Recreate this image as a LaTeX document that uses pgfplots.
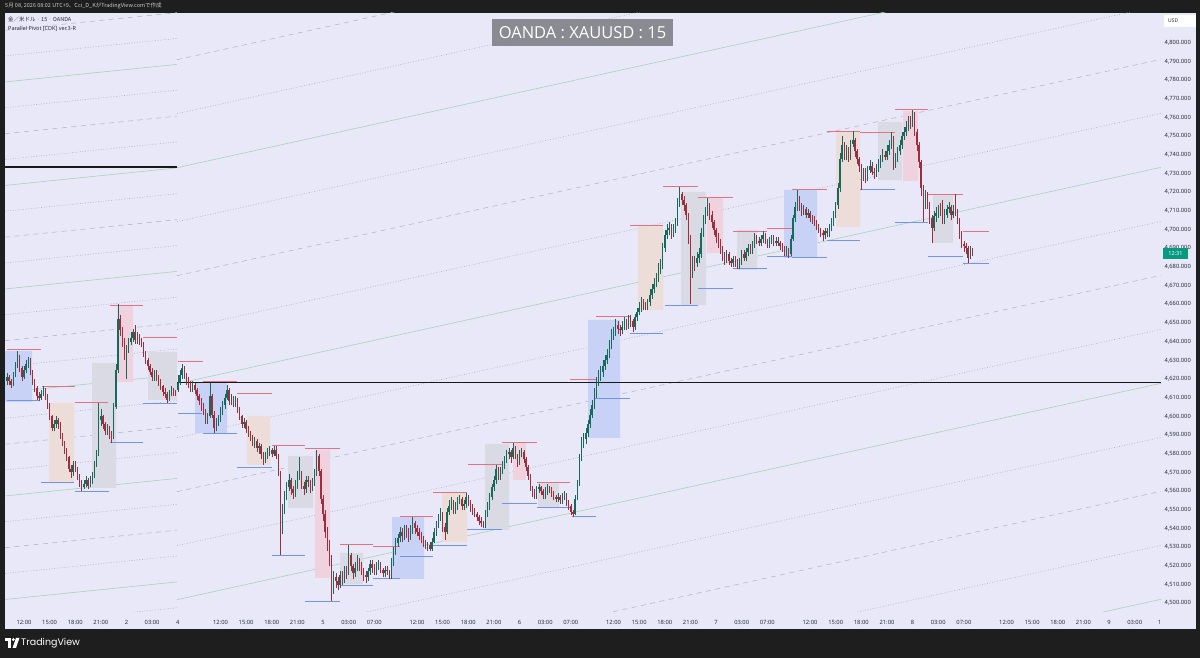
\documentclass[border=0pt]{standalone}
\usepackage{pgfplots}
\usepackage{pgfplotstable}
\pgfplotsset{compat=1.18}
\usepackage{fontspec}
\setmainfont{Noto Sans}
\newfontfamily\titlefont{Open Sans}
\newfontfamily\jp{Noto Sans CJK JP}
\newfontfamily\logofont{Poppins}

\definecolor{frame}{HTML}{1E1E1E}
\definecolor{panel}{HTML}{E9E8F8}
\definecolor{tvtext}{HTML}{2A2E39}
\definecolor{greenl}{HTML}{A3D6B1}
\definecolor{grayl}{HTML}{A9A9C2}
\definecolor{grayd}{HTML}{B3B3CA}
\definecolor{bxblue}{HTML}{C8D1F6}
\definecolor{bxgray}{HTML}{DADAE5}
\definecolor{bxpeach}{HTML}{EDDDD8}
\definecolor{bxpink}{HTML}{F0D2DE}
\definecolor{redl}{HTML}{E8717F}
\definecolor{bluel}{HTML}{6F95EC}
\definecolor{upc}{HTML}{17695C}
\definecolor{dnc}{HTML}{9E2E3B}
\definecolor{tvgreen}{HTML}{089981}

% 15-min candles, 10:00 May 1 .. 08:00 May 8 (one row per bar)
\pgfplotstableread{
o h l c
4619 4623 4617 4621
4621 4622 4617 4619
4619 4620 4615 4617
4617 4624 4616 4622
4622 4629 4621 4627
4627 4635 4626 4632
4632 4633 4624 4626
4626 4627 4619 4621
4621 4627 4620 4625
4625 4630 4623 4628
4628 4632 4626 4630
4630 4631 4622 4624
4624 4625 4617 4619
4619 4620 4613 4615
4615 4616 4609 4611
4611 4613 4608 4610
4610 4614 4609 4612
4612 4616 4611 4614
4614 4615 4609 4611
4611 4612 4604 4606
4606 4607 4598 4600
4600 4601 4592 4594
4594 4598 4592 4596
4596 4600 4594 4598
4598 4599 4593 4596
4596 4597 4588 4590
4590 4591 4584 4586
4586 4587 4580 4582
4582 4583 4576 4578
4578 4579 4570 4572
4572 4574 4567 4570
4570 4576 4568 4574
4574 4576 4570 4572
4572 4573 4566 4568
4568 4569 4562 4564
4564 4566 4560 4562
4562 4566 4561 4564
4564 4568 4562 4566
4566 4567 4561 4563
4563 4568 4562 4566
4566 4570 4564 4568
4568 4576 4567 4574
4574 4582 4573 4580
4580 4607 4579 4598
4598 4604 4595 4600
4600 4601 4593 4596
4596 4597 4590 4592
4592 4596 4590 4594
4594 4595 4588 4590
4590 4592 4586 4589
4589 4607 4588 4605
4605 4628 4604 4625
4625 4660 4623 4652
4652 4654 4643 4646
4646 4648 4637 4640
4640 4642 4630 4634
4634 4638 4620 4636
4636 4642 4634 4640
4640 4645 4638 4642
4642 4647 4640 4645
4645 4649 4639 4641
4641 4645 4639 4643
4643 4644 4638 4640
4640 4642 4637 4639
4639 4640 4632 4634
4634 4635 4628 4630
4630 4631 4625 4627
4627 4628 4622 4624
4624 4626 4619 4621
4621 4625 4619 4623
4623 4625 4619 4621
4621 4622 4616 4618
4618 4620 4614 4616
4616 4617 4611 4613
4613 4615 4610 4612
4612 4613 4607 4609
4609 4614 4608 4612
4612 4616 4611 4614
4614 4615 4611 4613
4613 4614 4611 4612
4614 4622 4613 4618
4618 4625 4617 4622
4622 4628 4620 4626
4626 4627 4620 4622
4622 4623 4617 4619
4619 4621 4615 4617
4617 4619 4613 4615
4615 4619 4613 4617
4617 4618 4612 4614
4614 4615 4609 4611
4611 4612 4606 4608
4608 4610 4603 4605
4605 4607 4601 4603
4603 4604 4596 4598
4598 4602 4596 4600
4600 4618 4599 4611
4611 4612 4599 4601
4601 4603 4591 4594
4594 4599 4592 4597
4597 4601 4595 4599
4599 4605 4597 4603
4603 4608 4601 4606
4606 4612 4604 4610
4610 4617 4609 4614
4614 4615 4606 4608
4608 4612 4606 4610
4610 4611 4605 4607
4607 4611 4605 4609
4609 4610 4602 4604
4604 4605 4598 4600
4600 4601 4594 4596
4596 4599 4594 4597
4597 4598 4591 4593
4593 4595 4589 4591
4591 4592 4587 4589
4589 4590 4584 4586
4586 4589 4583 4587
4587 4588 4581 4583
4583 4586 4580 4584
4584 4585 4577 4580
4580 4581 4574 4577
4577 4581 4575 4579
4579 4583 4577 4581
4581 4584 4579 4582
4582 4583 4578 4580
4580 4584 4579 4582
4582 4584 4577 4579
4579 4580 4568 4570
4570 4571 4526 4540
4540 4553 4537 4550
4550 4560 4548 4557
4557 4565 4555 4562
4562 4569 4560 4566
4566 4567 4558 4561
4561 4563 4556 4559
4559 4566 4557 4563
4563 4571 4561 4568
4568 4578 4566 4570
4570 4571 4561 4563
4563 4565 4558 4561
4561 4568 4559 4566
4566 4568 4562 4565
4565 4566 4559 4562
4562 4567 4560 4564
4564 4572 4563 4570
4570 4582 4568 4579
4579 4580 4568 4571
4571 4572 4553 4556
4556 4558 4544 4548
4548 4550 4535 4538
4538 4541 4528 4532
4532 4534 4520 4524
4524 4526 4501 4508
4508 4517 4505 4514
4514 4516 4508 4512
4512 4514 4507 4510
4510 4517 4508 4515
4515 4517 4510 4513
4513 4520 4511 4518
4518 4520 4513 4516
4516 4531 4515 4526
4526 4527 4517 4520
4520 4521 4513 4516
4516 4522 4514 4519
4519 4526 4517 4523
4523 4524 4517 4520
4520 4522 4515 4517
4517 4519 4512 4515
4515 4517 4511 4514
4514 4519 4512 4517
4517 4523 4515 4521
4521 4523 4516 4519
4519 4521 4515 4517
4517 4522 4515 4520
4520 4523 4518 4521
4521 4522 4516 4518
4518 4519 4514 4516
4516 4520 4514 4518
4518 4520 4515 4517
4517 4518 4513 4515
4515 4524 4513 4522
4522 4530 4520 4528
4528 4535 4526 4532
4532 4537 4530 4535
4535 4541 4533 4538
4538 4540 4533 4536
4536 4542 4534 4540
4540 4542 4535 4538
4538 4540 4533 4536
4536 4542 4534 4539
4539 4546 4537 4543
4543 4544 4537 4540
4540 4542 4536 4538
4538 4540 4534 4536
4536 4538 4532 4534
4534 4536 4530 4532
4532 4534 4529 4530
4530 4533 4528 4531
4531 4533 4528 4529
4529 4535 4528 4533
4533 4540 4532 4538
4538 4544 4536 4542
4542 4548 4540 4546
4546 4551 4544 4548
4548 4549 4538 4541
4541 4543 4534 4538
4538 4551 4537 4549
4549 4555 4547 4552
4552 4557 4550 4554
4554 4555 4548 4550
4550 4554 4548 4552
4552 4557 4550 4555
4555 4558 4553 4556
4556 4557 4550 4552
4552 4555 4550 4553
4553 4559 4551 4557
4557 4558 4552 4554
4554 4555 4549 4551
4551 4553 4547 4550
4550 4551 4546 4548
4548 4549 4544 4546
4546 4547 4542 4544
4544 4546 4541 4543
4543 4544 4540 4541
4541 4550 4540 4548
4548 4554 4546 4552
4552 4559 4550 4557
4557 4564 4555 4562
4562 4568 4560 4566
4566 4574 4564 4572
4572 4573 4566 4568
4568 4573 4566 4571
4571 4576 4569 4574
4574 4579 4572 4577
4577 4582 4575 4580
4580 4583 4577 4581
4581 4582 4575 4578
4578 4586 4577 4583
4583 4584 4577 4579
4579 4580 4573 4576
4576 4582 4574 4580
4580 4583 4578 4581
4581 4582 4575 4577
4577 4578 4571 4573
4573 4574 4566 4568
4568 4569 4560 4562
4562 4563 4557 4559
4559 4561 4556 4558
4558 4563 4556 4561
4561 4564 4559 4562
4562 4563 4558 4560
4560 4561 4556 4558
4558 4562 4556 4560
4560 4564 4558 4562
4562 4563 4559 4561
4561 4562 4557 4559
4559 4560 4555 4557
4557 4558 4554 4556
4556 4559 4554 4557
4557 4558 4553 4555
4555 4559 4553 4557
4557 4560 4555 4558
4558 4559 4552 4554
4554 4555 4550 4552
4552 4553 4547 4549
4549 4550 4546 4548
4548 4558 4547 4556
4556 4566 4555 4564
4564 4580 4563 4578
4578 4589 4576 4586
4586 4591 4583 4588
4588 4594 4585 4591
4591 4598 4589 4596
4596 4604 4594 4601
4601 4609 4599 4606
4606 4615 4604 4612
4612 4621 4610 4618
4618 4625 4616 4622
4622 4627 4619 4624
4624 4630 4621 4627
4627 4633 4625 4630
4630 4636 4628 4633
4633 4641 4631 4638
4638 4647 4636 4644
4644 4648 4641 4645
4645 4652 4643 4649
4649 4651 4644 4647
4647 4649 4643 4646
4646 4651 4644 4648
4648 4653 4646 4650
4650 4652 4646 4649
4649 4654 4647 4652
4652 4654 4648 4651
4651 4652 4645 4648
4648 4655 4646 4653
4653 4658 4651 4656
4656 4661 4654 4658
4658 4664 4656 4661
4661 4663 4657 4659
4659 4661 4657 4658
4658 4663 4657 4661
4661 4668 4659 4665
4665 4671 4663 4668
4668 4674 4666 4671
4671 4677 4669 4674
4674 4682 4672 4679
4679 4684 4676 4681
4681 4693 4679 4690
4690 4700 4688 4697
4697 4703 4695 4700
4700 4704 4697 4701
4701 4703 4695 4698
4698 4703 4696 4700
4700 4706 4698 4703
4703 4717 4702 4714
4714 4723 4712 4719
4719 4720 4713 4716
4716 4718 4710 4713
4713 4714 4705 4708
4708 4709 4692 4696
4696 4697 4660 4678
4678 4686 4674 4683
4683 4686 4678 4682
4682 4688 4680 4685
4685 4690 4682 4687
4687 4701 4685 4698
4698 4708 4696 4705
4705 4712 4703 4709
4709 4717 4707 4713
4713 4714 4705 4708
4708 4710 4701 4704
4704 4705 4697 4700
4700 4701 4693 4696
4696 4698 4690 4693
4693 4695 4687 4690
4690 4691 4683 4686
4686 4688 4681 4684
4684 4689 4682 4687
4687 4688 4681 4683
4683 4685 4680 4682
4682 4686 4680 4684
4684 4686 4680 4682
4682 4684 4679 4680
4680 4685 4679 4683
4683 4689 4681 4687
4687 4689 4683 4685
4685 4690 4683 4688
4688 4692 4686 4690
4690 4692 4687 4689
4689 4694 4687 4692
4692 4698 4690 4696
4696 4697 4692 4694
4694 4696 4691 4693
4693 4697 4691 4695
4695 4699 4693 4697
4697 4698 4692 4694
4694 4695 4690 4692
4692 4696 4690 4694
4694 4697 4692 4695
4695 4697 4691 4693
4693 4696 4691 4694
4694 4696 4691 4693
4693 4694 4689 4691
4691 4693 4688 4690
4690 4691 4686 4688
4688 4691 4686 4689
4689 4690 4685 4687
4687 4697 4686 4695
4695 4708 4694 4706
4706 4715 4704 4712
4712 4721 4710 4717
4717 4718 4710 4713
4713 4714 4707 4710
4710 4713 4708 4711
4711 4712 4706 4708
4708 4711 4706 4709
4709 4710 4704 4706
4706 4708 4703 4705
4705 4707 4702 4704
4704 4705 4700 4702
4702 4703 4698 4700
4700 4701 4696 4698
4698 4700 4694 4697
4697 4701 4695 4699
4699 4701 4696 4698
4698 4703 4696 4701
4701 4706 4699 4704
4704 4710 4702 4708
4708 4715 4706 4713
4713 4725 4711 4722
4722 4741 4720 4738
4738 4750 4736 4745
4745 4747 4737 4740
4740 4745 4737 4742
4742 4744 4736 4739
4739 4748 4737 4746
4746 4753 4744 4748
4748 4749 4739 4742
4742 4743 4735 4738
4738 4739 4731 4734
4734 4735 4721 4729
4729 4733 4726 4731
4731 4733 4725 4728
4728 4734 4726 4732
4732 4737 4730 4734
4734 4736 4729 4731
4731 4733 4727 4730
4730 4735 4728 4733
4733 4738 4731 4735
4735 4740 4733 4738
4738 4743 4736 4740
4740 4742 4737 4739
4739 4745 4737 4742
4742 4748 4740 4745
4745 4752 4743 4749
4749 4750 4732 4735
4735 4741 4733 4738
4738 4744 4736 4742
4742 4748 4740 4745
4745 4752 4743 4750
4750 4755 4748 4752
4752 4758 4750 4755
4755 4761 4753 4758
4758 4761 4754 4757
4757 4764 4755 4762
4762 4763 4750 4752
4752 4754 4742 4745
4745 4747 4733 4736
4736 4737 4718 4722
4722 4724 4704 4714
4714 4721 4711 4718
4718 4720 4711 4714
4714 4715 4703 4706
4706 4708 4693 4701
4701 4710 4699 4707
4707 4712 4704 4709
4709 4713 4706 4711
4711 4714 4707 4710
4710 4716 4703 4705
4705 4711 4703 4708
4708 4713 4706 4711
4711 4715 4709 4712
4712 4713 4705 4708
4708 4713 4706 4710
4710 4719 4707 4709
4709 4711 4703 4705
4705 4706 4695 4698
4698 4699 4690 4692
4692 4694 4688 4691
4691 4693 4687 4690
4690 4691 4682 4685
4685 4691 4684 4689
4689 4690 4686 4687
}\candles

\tikzset{
  gln/.style={color=greenl, line width=0.6pt},
  dtl/.style={color=grayl, line width=0.55pt, dash pattern=on 0.8pt off 1.8pt},
  dsl/.style={color=grayd, line width=0.55pt, dash pattern=on 5pt off 4.5pt},
  rseg/.style={color=redl, line width=1pt},
  bseg/.style={color=bluel, line width=1pt},
}
\newcommand\pvbox[5]{\addplot[fill=#5, draw=none] coordinates {(#1,#3) (#2,#3) (#2,#4) (#1,#4) (#1,#3)};}
\newcommand\hiseg[3]{\addplot[rseg] coordinates {(#1,#3) (#2,#3)};}
\newcommand\loseg[3]{\addplot[bseg] coordinates {(#1,#3) (#2,#3)};}
\newcommand\rline[3]{\addplot[#3] coordinates {(177,#1) (1161,#2)};}
\newcommand\lline[3]{\addplot[#3] coordinates {(5,#1) (177,#2)};}

\begin{document}
\begin{tikzpicture}
\useasboundingbox (0pt,0pt) rectangle (1200pt,658pt);
\fill[frame] (0pt,0pt) rectangle (1200pt,658pt);
\fill[panel] (5pt,29pt) rectangle (1196pt,645pt);

\begin{axis}[
  at={(5pt,46pt)}, anchor=south west,
  scale only axis, width=1156pt, height=599pt,
  xmin=5, xmax=1161, ymin=4495.3, ymax=4815.9,
  axis line style={draw=none}, major tick length=0pt,
  clip=true,
  ytick={4500,4510,4520,4530,4540,4550,4560,4570,4580,4590,4600,4610,4620,4630,4640,4650,
         4660,4670,4680,4690,4700,4710,4720,4730,4740,4750,4760,4770,4780,4790,4800},
  yticklabel pos=right, scaled y ticks=false,
  yticklabel style={anchor=west, font=\fontsize{5.8}{6}\selectfont, text=tvtext,
    /pgf/number format/.cd, fixed, fixed zerofill, precision=3, 1000 sep={,}, assume math mode=true},
  xtick={24.0,49.6,75.3,100.9,126.5,152.1,177.8,
         220.5,246.1,271.8,297.4,323.0,348.7,374.3,
         417.0,442.6,468.3,493.9,519.5,545.2,570.8,
         613.5,639.2,664.8,690.4,716.1,741.7,767.3,
         810.0,835.7,861.3,887.0,912.6,938.2,963.9,
         1006.6,1032.2,1057.8,1083.4,1109.1,1134.7,1159.5},
  xticklabels={12:00,15:00,18:00,21:00,2,03:00,4,
               12:00,15:00,18:00,21:00,5,03:00,07:00,
               12:00,15:00,18:00,21:00,6,03:00,07:00,
               12:00,15:00,18:00,21:00,7,03:00,07:00,
               12:00,15:00,18:00,21:00,8,03:00,07:00,
               12:00,15:00,18:00,21:00,9,03:00,1},
  xticklabel style={font=\fontsize{5.8}{6}\selectfont, text=tvtext, yshift=-5pt},
]
% parallel pivot lines, earlier week (left part)
\lline{4488.2}{4497.6}{dtl}
\lline{4502.0}{4511.4}{gln}
\lline{4515.9}{4525.3}{dtl}
\lline{4529.7}{4539.1}{dsl}
\lline{4543.6}{4553.0}{dtl}
\lline{4557.4}{4566.8}{gln}
\lline{4571.3}{4580.7}{dtl}
\lline{4585.1}{4594.5}{dsl}
\lline{4599.0}{4608.4}{dtl}
\lline{4612.8}{4622.2}{gln}
\lline{4626.7}{4636.1}{dtl}
\lline{4640.5}{4649.9}{dsl}
\lline{4654.4}{4663.8}{dtl}
\lline{4668.2}{4677.6}{gln}
\lline{4682.1}{4691.5}{dtl}
\lline{4695.9}{4705.3}{dsl}
\lline{4709.8}{4719.2}{dtl}
\lline{4723.6}{4733.0}{gln}
\lline{4737.5}{4746.9}{dtl}
\lline{4751.3}{4760.7}{dsl}
\lline{4765.2}{4774.6}{dtl}
\lline{4779.0}{4788.4}{gln}
\lline{4792.9}{4802.3}{dtl}
\lline{4806.7}{4816.1}{dsl}
% parallel pivot lines, this week
\rline{4386.3}{4502.1}{gln}
\rline{4415.2}{4531.0}{dtl}
\rline{4444.1}{4559.9}{dsl}
\rline{4473.0}{4588.8}{dtl}
\rline{4501.9}{4617.7}{gln}
\rline{4530.8}{4646.6}{dtl}
\rline{4559.7}{4675.5}{dsl}
\rline{4588.6}{4704.4}{dtl}
\rline{4617.5}{4733.3}{gln}
\rline{4646.4}{4762.2}{dtl}
\rline{4675.3}{4791.1}{dsl}
\rline{4704.2}{4820.0}{dtl}
\rline{4733.1}{4848.9}{gln}
\rline{4762.0}{4877.8}{dtl}
\rline{4790.9}{4906.7}{dsl}

% session boxes
\pvbox{5}{32}{4607.7}{4635.0}{bxblue}
\pvbox{49}{74}{4564.9}{4607.2}{bxpeach}
\pvbox{92}{116}{4561.7}{4628.6}{bxgray}
\pvbox{117}{133}{4618.4}{4659.6}{bxpink}
\pvbox{148}{177}{4608.8}{4634.5}{bxgray}
\pvbox{195}{227}{4591.1}{4617.9}{bxblue}
\pvbox{247}{270}{4574.0}{4600.2}{bxpeach}
\pvbox{288}{313}{4551.0}{4578.8}{bxgray}
\pvbox{315}{330}{4513.5}{4582.0}{bxpink}
\pvbox{340}{363}{4510.3}{4526.9}{bxgray}
\pvbox{392}{424}{4513.0}{4546.2}{bxblue}
\pvbox{442}{467}{4532.8}{4559.0}{bxpeach}
\pvbox{485}{509}{4539.2}{4585.3}{bxgray}
\pvbox{513}{526}{4566.0}{4585.8}{bxpink}
\pvbox{538}{559}{4551.0}{4564.4}{bxgray}
\pvbox{588}{620}{4588.5}{4651.6}{bxblue}
\pvbox{638}{663}{4657.0}{4702.4}{bxpeach}
\pvbox{681}{706}{4659.6}{4720.1}{bxgray}
\pvbox{707}{723}{4687.4}{4716.9}{bxpink}
\pvbox{737}{757}{4678.4}{4699.8}{bxgray}
\pvbox{784}{817}{4684.8}{4721.2}{bxblue}
\pvbox{836}{860}{4701.4}{4752.7}{bxpeach}
\pvbox{878}{902}{4726.5}{4757.6}{bxgray}
\pvbox{903}{918}{4726.0}{4763.5}{bxpink}
\pvbox{933}{953}{4692.8}{4718.5}{bxgray}

% pivot highs
\hiseg{7}{41}{4635.6}  \hiseg{42}{75}{4615.8}  \hiseg{75}{108}{4607.2}
\hiseg{110}{143}{4659.6} \hiseg{143}{177}{4642.0} \hiseg{178}{203}{4629.2}
\hiseg{203}{237}{4618.4} \hiseg{237}{272}{4612.5} \hiseg{272}{305}{4584.2}
\hiseg{305}{340}{4582.6} \hiseg{340}{373}{4531.2} \hiseg{373}{400}{4530.1}
\hiseg{400}{433}{4546.2} \hiseg{433}{467}{4559.0} \hiseg{468}{502}{4574.0}
\hiseg{502}{537}{4585.8} \hiseg{537}{570}{4564.4} \hiseg{570}{596}{4619.5}
\hiseg{596}{630}{4653.2} \hiseg{630}{663}{4702.4} \hiseg{663}{698}{4722.8}
\hiseg{698}{733}{4716.9} \hiseg{733}{767}{4699.2} \hiseg{767}{792}{4700.8}
\hiseg{792}{827}{4721.2} \hiseg{827}{860}{4752.7} \hiseg{860}{895}{4751.7}
\hiseg{895}{928}{4764.0} \hiseg{928}{963}{4719.0} \hiseg{963}{989}{4698.7}
% pivot lows
\loseg{7}{40}{4608.3}  \loseg{41}{74}{4564.4}  \loseg{75}{109}{4559.6}
\loseg{110}{143}{4585.8} \loseg{143}{177}{4606.7} \loseg{178}{202}{4601.3}
\loseg{203}{237}{4590.6} \loseg{237}{272}{4572.9} \loseg{272}{305}{4525.3}
\loseg{305}{340}{4500.7} \loseg{340}{373}{4509.3} \loseg{373}{400}{4513.0}
\loseg{400}{433}{4524.8} \loseg{433}{467}{4530.7} \loseg{467}{502}{4539.2}
\loseg{502}{537}{4553.1} \loseg{537}{570}{4551.0} \loseg{572}{596}{4546.2}
\loseg{595}{630}{4609.3} \loseg{630}{663}{4644.1} \loseg{665}{698}{4659.6}
\loseg{698}{733}{4668.2} \loseg{733}{767}{4678.9} \loseg{767}{792}{4685.3}
\loseg{792}{827}{4684.8} \loseg{827}{860}{4693.9} \loseg{860}{895}{4721.2}
\loseg{895}{928}{4703.5} \loseg{928}{963}{4685.8} \loseg{963}{989}{4681.6}

% horizontal levels
\addplot[color=black!90, line width=1.2pt] coordinates {(5,4733.5) (177,4733.5)};
\addplot[color=black!90, line width=1.2pt] coordinates {(177,4618.0) (1161,4618.0)};

% candles: wicks then bodies, up and down
\addplot[upc, line width=0.5pt, quiver={u=0, v=\thisrow{h}-\thisrow{l}},
  restrict expr to domain={\thisrow{c}-\thisrow{o}}{0:1000}]
  table[x expr={6.9+2.136*\coordindex}, y=l] {\candles};
\addplot[dnc, line width=0.5pt, quiver={u=0, v=\thisrow{h}-\thisrow{l}},
  restrict expr to domain={\thisrow{c}-\thisrow{o}}{-1000:-0.5}]
  table[x expr={6.9+2.136*\coordindex}, y=l] {\candles};
\addplot[upc, line width=1.35pt, quiver={u=0, v=\thisrow{c}-\thisrow{o}},
  restrict expr to domain={\thisrow{c}-\thisrow{o}}{0:1000}]
  table[x expr={6.9+2.136*\coordindex}, y=o] {\candles};
\addplot[dnc, line width=1.35pt, quiver={u=0, v=\thisrow{c}-\thisrow{o}},
  restrict expr to domain={\thisrow{c}-\thisrow{o}}{-1000:-0.5}]
  table[x expr={6.9+2.136*\coordindex}, y=o] {\candles};
\end{axis}

% header texts
\node[anchor=west, inner sep=0pt, text=black!20, font=\jp\fontsize{5.5}{6}\selectfont]
  at (5pt,652pt) {5月 08, 2026 08:02 UTC+9、Cci\_D\_KがTradingView.comで作成};
\node[anchor=west, inner sep=0pt, text=tvtext, font=\jp\fontsize{5.5}{6}\selectfont]
  at (8pt,639pt) {金／米ドル · 15 · OANDA};
\node[anchor=west, inner sep=0pt, text=tvtext, font=\fontsize{5.5}{6}\selectfont]
  at (8pt,629pt) {Parallel Pivot [CDK] ver.3-R};
\node[fill=black!45!panel, fill opacity=0.9, text opacity=1, text=white,
  minimum width=181pt, minimum height=27pt, inner sep=0pt,
  font=\titlefont\fontsize{16.5}{18}\selectfont] at (582.5pt,625pt) {OANDA : XAUUSD : 15};
% price scale extras
\fill[white] (1164pt,631pt) rectangle (1196pt,643pt);
\node[anchor=west, inner sep=0pt, text=tvtext, font=\fontsize{5}{6}\selectfont] at (1168pt,637pt) {USD};
\fill[tvgreen] (1163pt,399pt) rectangle (1188pt,410pt);
\node[inner sep=0pt, text=white, font=\fontsize{5.5}{6}\selectfont] at (1175.5pt,404.5pt) {12:31};
% TradingView logo
\fill[white] (5pt,17pt) rectangle (11pt,20pt);
\fill[white] (8pt,10pt) rectangle (11pt,20pt);
\fill[white] (13.3pt,18.4pt) circle (1.6pt);
\fill[white] (12.5pt,10pt) -- (16pt,20pt) -- (19.5pt,20pt) -- (16pt,10pt) -- cycle;
\node[anchor=west, inner sep=0pt, text=white, font=\logofont\fontsize{9.5}{10}\selectfont] at (21pt,15pt) {TradingView};
\end{tikzpicture}
\end{document}
